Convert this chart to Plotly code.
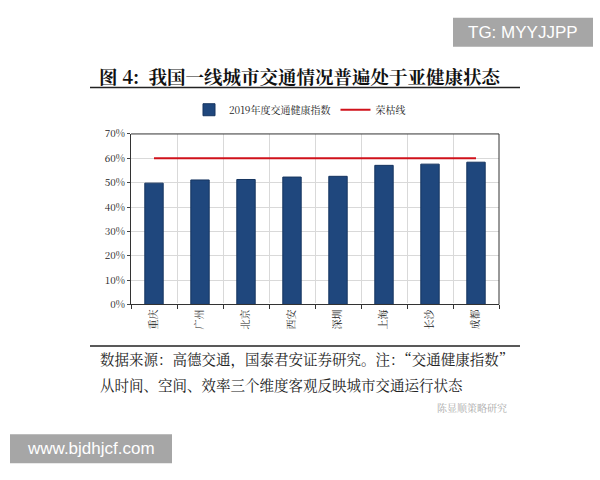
import plotly.graph_objects as go

cities = ["重庆", "广州", "北京", "西安", "深圳", "上海", "长沙", "成都"]
index_values = [49.8, 51.1, 51.3, 52.3, 52.6, 57.1, 57.6, 58.4]
line_values = [60] * len(cities)
y_ticks = [0, 10, 20, 30, 40, 50, 60, 70]
y_labels = [f"{v}%" for v in y_ticks]

serif = "Noto Serif CJK SC, Noto Sans CJK SC, serif"
fig = go.Figure()
fig.add_bar(x=cities, y=index_values, name="2019年度交通健康指数",
            marker=dict(color="#1f477d", line=dict(color="#163560", width=1)), width=0.4)
fig.add_scatter(x=cities, y=line_values, mode="lines", name="荣枯线",
                line=dict(color="#d0121b", width=2))

def py(p):
    return 1 - p / 480

fig.update_layout(
    width=600, height=480, margin=dict(l=0, r=0, t=0, b=0),
    paper_bgcolor="white", plot_bgcolor="white",
    font=dict(family=serif, color="#222"),
    xaxis=dict(domain=[131/600, 499/600], anchor="y", tickson="boundaries", showgrid=True,
               gridcolor="#d9d9d9", showline=True, linecolor="#333", ticks="outside",
               ticklen=4, tickcolor="#333", tickangle=-90, tickfont=dict(size=10)),
    yaxis=dict(domain=[py(306), py(130)], range=[0, 70], tickvals=y_ticks, ticktext=y_labels,
               showgrid=True, gridcolor="#d9d9d9", showline=True, linecolor="#333",
               ticks="outside", ticklen=3, tickfont=dict(size=10)),
    legend=dict(orientation="h", x=0.5, xanchor="center", y=py(105), yanchor="middle",
                font=dict(size=10), itemwidth=30),
    shapes=[
        dict(type="line", xref="paper", yref="paper", x0=90/600, x1=520/600, y0=py(82), y1=py(82),
             line=dict(color="#222", width=1.5)),
        dict(type="line", xref="paper", yref="paper", x0=90/600, x1=520/600, y0=py(349), y1=py(349),
             line=dict(color="#222", width=1.5)),
        dict(type="line", xref="x domain", yref="y domain", x0=1, x1=1, y0=0, y1=1,
             line=dict(color="#333", width=1)),
        dict(type="line", xref="x domain", yref="y domain", x0=0, x1=1, y0=1, y1=1,
             line=dict(color="#333", width=1)),
        dict(type="rect", xref="paper", yref="paper", x0=453/600, x1=593/600, y0=py(40), y1=py(10),
             fillcolor="#a6a6a6", line=dict(width=0), layer="below"),
        dict(type="rect", xref="paper", yref="paper", x0=10/600, x1=172/600, y0=py(470), y1=py(440),
             fillcolor="#a6a6a6", line=dict(width=0), layer="below"),
    ],
    annotations=[
        dict(text="<b>图 4:  我国一线城市交通情况普遍处于亚健康状态</b>", xref="paper", yref="paper",
             x=0.5, y=py(70), xanchor="center", showarrow=False, font=dict(size=18.5, color="#111"),
             yanchor="middle"),
        dict(text="数据来源：高德交通，国泰君安证券研究。注：“交通健康指数”",
             xref="paper", yref="paper", x=98/600, y=py(362), xanchor="left", yanchor="middle",
             showarrow=False, font=dict(size=14.5, color="#222")),
        dict(text="从时间、空间、效率三个维度客观反映城市交通运行状态",
             xref="paper", yref="paper", x=98/600, y=py(389), xanchor="left", yanchor="middle",
             showarrow=False, font=dict(size=14.5, color="#222")),
        dict(text="TG: MYYJJPP", xref="paper", yref="paper", x=523/600, y=py(25),
             xanchor="center", yanchor="middle",
             showarrow=False, font=dict(family="Liberation Sans, Arial", size=17, color="white")),
        dict(text="www.bjdhjcf.com", xref="paper", yref="paper", x=91/600, y=py(455),
             xanchor="center", yanchor="middle",
             showarrow=False, font=dict(family="Liberation Sans, Arial", size=17, color="white")),
        dict(text="陈显顺策略研究", xref="paper", yref="paper", x=472/600, y=py(422),
             xanchor="center", showarrow=False, font=dict(size=10, color="#aaa")),
    ],
)
fig.write_html("out.html", config={"displayModeBar": False},
               post_script="document.body.style.margin='0';")
